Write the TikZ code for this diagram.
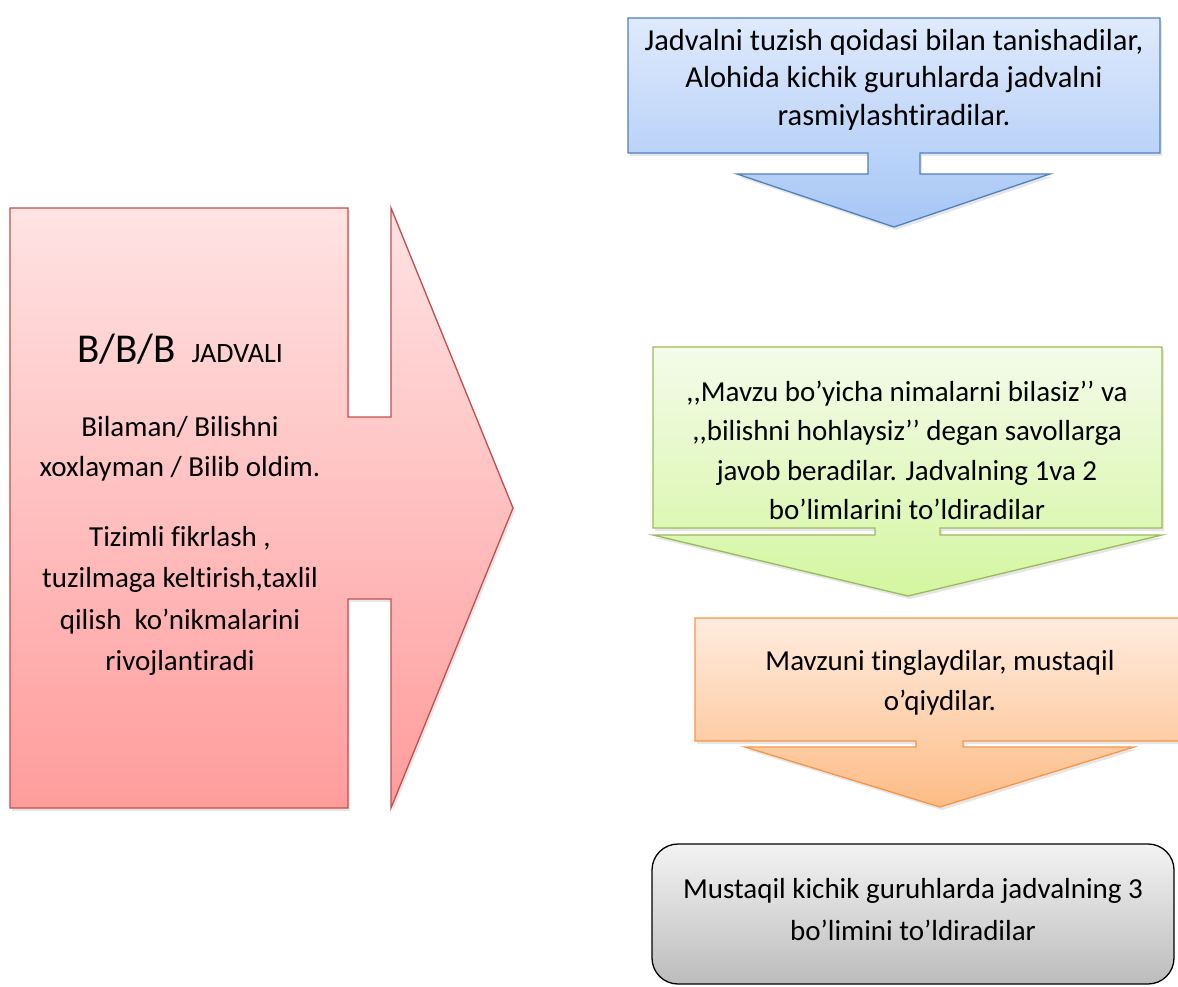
\documentclass[tikz,border=0pt]{standalone}
\usepackage{fontspec}
\setmainfont{Carlito}[Ligatures={TeX,NoCommon}]
\usepackage{tikz}
\usetikzlibrary{shadows}
\definecolor{stepBlue}{HTML}{4F81BD}
\definecolor{stepBlueTop}{HTML}{DFEAFC}
\definecolor{stepBlueBot}{HTML}{A6C6F6}
\definecolor{bbbRed}{HTML}{C0504D}
\definecolor{bbbRedTop}{HTML}{FFE3E3}
\definecolor{bbbRedBot}{HTML}{FF9C9C}
\definecolor{stepGreen}{HTML}{9BBB59}
\definecolor{stepGreenTop}{HTML}{F4FBEA}
\definecolor{stepGreenBot}{HTML}{D4F6A0}
\definecolor{stepOrange}{HTML}{F79646}
\definecolor{stepOrangeTop}{HTML}{FFECDF}
\definecolor{stepOrangeBot}{HTML}{FDBC86}
\definecolor{stepGreyTop}{HTML}{F3F3F3}
\definecolor{stepGreyBot}{HTML}{BCBCBC}

\begin{document}
\begin{tikzpicture}[
  x=1pt, y=-1pt,
  body/.style={font=\fontsize{29}{40}\selectfont, align=center, inner sep=0pt},
  callout/.style={line width=1.3pt, line join=miter},
  softshadow/.style={drop shadow={opacity=0.2, shadow xshift=2pt, shadow yshift=-3pt}},
]
\clip (0,0) rectangle (1178,987);

% B/B/B arrow on the left
\draw[callout, softshadow, draw=bbbRed, top color=bbbRedTop, bottom color=bbbRedBot]
  (10,208) -- (348,208) -- (348,417) -- (391,417) -- (391,208) -- (513,508)
  -- (391,808) -- (391,599) -- (348,599) -- (348,808) -- (10,808) -- cycle;

% step callouts on the right
\draw[callout, softshadow, draw=stepBlue, top color=stepBlueTop, bottom color=stepBlueBot]
  (628,18) -- (1160,18) -- (1160,153) -- (920,153) -- (920,174) -- (1050,174)
  -- (894,227) -- (737,174) -- (868,174) -- (868,153) -- (628,153) -- cycle;

\draw[callout, softshadow, draw=stepGreen, top color=stepGreenTop, bottom color=stepGreenBot]
  (653,347) -- (1162,347) -- (1162,528) -- (940,528) -- (940,535) -- (1162,535)
  -- (908,596) -- (653,535) -- (875,535) -- (875,528) -- (653,528) -- cycle;

\draw[callout, softshadow, draw=stepOrange, top color=stepOrangeTop, bottom color=stepOrangeBot]
  (695,618) -- (1185,618) -- (1185,741) -- (963,741) -- (963,747) -- (1134,747)
  -- (940,807) -- (745,747) -- (916,747) -- (916,741) -- (695,741) -- cycle;

\draw[line width=1.3pt, rounded corners=26pt, top color=stepGreyTop, bottom color=stepGreyBot]
  (652,844) rectangle (1174,984);

% texts
\node[body, anchor=base] (bbbTitle) at (180,362)
  {{\fontsize{41}{48}\selectfont B/B/B}\hspace{16pt}{\fontsize{28}{34}\selectfont JADVALI}};
\node[body] (bbbKnow) at (180,449) {Bilaman/ Bilishni\\xoxlayman / Bilib oldim.};
\node[body, font=\fontsize{29}{41.3}\selectfont] (bbbSkill) at (180,601)
  {Tizimli fikrlash ,\\tuzilmaga keltirish,taxlil\\qilish\ \ ko’nikmalarini\\rivojlantiradi};

\node[body, font=\fontsize{30.5}{37.5}\selectfont] (stepRules) at (894,79.5)
  {Jadvalni tuzish qoidasi bilan tanishadilar,\\Alohida kichik guruhlarda jadvalni\\rasmiylashtiradilar.};
\node[body, font=\fontsize{29}{39.5}\selectfont] (stepAsk) at (907,450.5)
  {,{},Mavzu bo’yicha nimalarni bilasiz’’ va\\,{},bilishni hohlaysiz’’ degan savollarga\\javob beradilar. Jadvalning 1va 2\\bo’limlarini to’ldiradilar};
\node[body, font=\fontsize{29}{40}\selectfont] (stepListen) at (940,683)
  {Mavzuni tinglaydilar, mustaqil\\o’qiydilar.};
\node[body, font=\fontsize{29}{42}\selectfont] (stepGroups) at (913,910)
  {Mustaqil kichik guruhlarda jadvalning 3\\bo’limini to’ldiradilar};
\end{tikzpicture}
\end{document}
